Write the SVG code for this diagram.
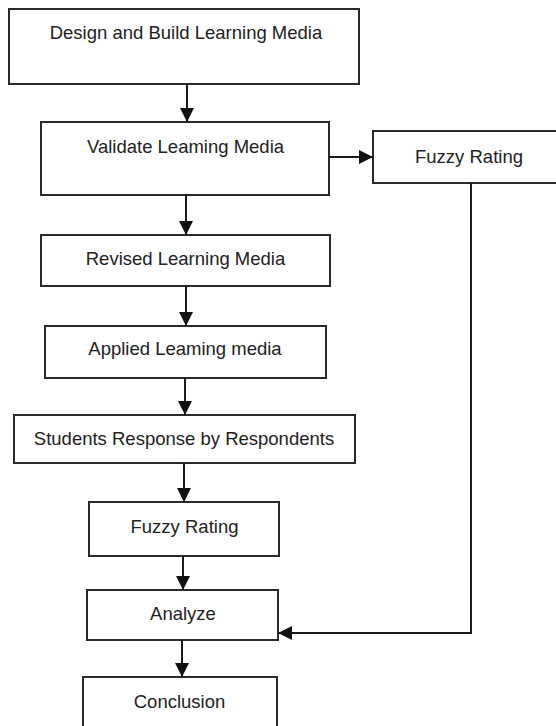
<svg xmlns="http://www.w3.org/2000/svg" width="556" height="726" viewBox="0 0 556 726">
  <style>
    .box { fill: #ffffff; stroke: #2a2a2a; stroke-width: 2; }
    .lbl { font-family: "Liberation Sans", Arial, sans-serif; font-size: 18.5px; fill: #222222; text-anchor: middle; }
    .edge { fill: none; stroke: #1a1a1a; stroke-width: 2; }
  </style>
  <defs>
    <marker id="arr" markerUnits="userSpaceOnUse" markerWidth="14" markerHeight="14" viewBox="0 0 14 14" refX="14" refY="7" orient="auto">
      <path d="M0,0 L14,7 L0,14 z" fill="#111111"/>
    </marker>
  </defs>
  <rect x="0" y="0" width="556" height="726" fill="#ffffff"/>

  <g id="n1">
    <rect class="box" x="9" y="9" width="350" height="75"/>
    <text class="lbl" x="186" y="39">Design and Build Learning Media</text>
  </g>
  <g id="n2">
    <rect class="box" x="41" y="122" width="288" height="73"/>
    <text class="lbl" x="185.5" y="153">Validate Leaming Media</text>
  </g>
  <g id="n3">
    <rect class="box" x="373" y="131" width="200" height="52"/>
    <text class="lbl" x="469" y="163">Fuzzy Rating</text>
  </g>
  <g id="n4">
    <rect class="box" x="41" y="235" width="289" height="51"/>
    <text class="lbl" x="185.5" y="265">Revised Learning Media</text>
  </g>
  <g id="n5">
    <rect class="box" x="45" y="326" width="281" height="52"/>
    <text class="lbl" x="185" y="355">Applied Leaming media</text>
  </g>
  <g id="n6">
    <rect class="box" x="14" y="415" width="341" height="48"/>
    <text class="lbl" x="184" y="445">Students Response by Respondents</text>
  </g>
  <g id="n7">
    <rect class="box" x="89" y="502" width="190" height="54"/>
    <text class="lbl" x="184.5" y="533">Fuzzy Rating</text>
  </g>
  <g id="n8">
    <rect class="box" x="87" y="590" width="191" height="50"/>
    <text class="lbl" x="183" y="620">Analyze</text>
  </g>
  <g id="n9">
    <rect class="box" x="83" y="677" width="194" height="60"/>
    <text class="lbl" x="179.5" y="708">Conclusion</text>
  </g>

  <g id="connectors">
    <line class="edge" x1="187" y1="84" x2="187" y2="122" marker-end="url(#arr)"/>
    <line class="edge" x1="186" y1="195" x2="186" y2="235" marker-end="url(#arr)"/>
    <line class="edge" x1="186" y1="286" x2="186" y2="326" marker-end="url(#arr)"/>
    <line class="edge" x1="185" y1="378" x2="185" y2="415" marker-end="url(#arr)"/>
    <line class="edge" x1="184" y1="463" x2="184" y2="502" marker-end="url(#arr)"/>
    <line class="edge" x1="183" y1="556" x2="183" y2="590" marker-end="url(#arr)"/>
    <line class="edge" x1="182" y1="640" x2="182" y2="677" marker-end="url(#arr)"/>
    <line class="edge" x1="329" y1="157" x2="373" y2="157" marker-end="url(#arr)"/>
    <polyline class="edge" points="471,183 471,633 278,633" marker-end="url(#arr)"/>
  </g>
</svg>
